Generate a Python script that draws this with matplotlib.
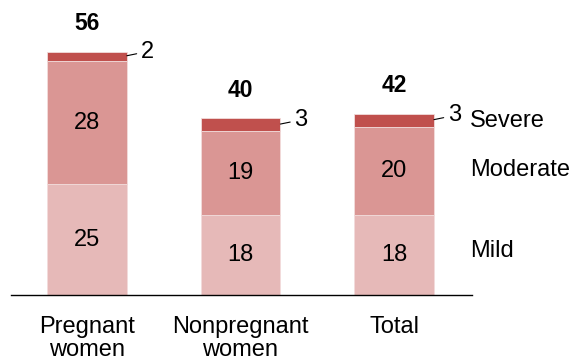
import matplotlib
matplotlib.use("Agg")
import matplotlib.pyplot as plt

categories = ["Pregnant\nwomen", "Nonpregnant\nwomen", "Total"]
mild = [25, 18, 18]
moderate = [28, 19, 20]
severe = [2, 3, 3]
totals = [56, 40, 42]
series_names = ["Mild", "Moderate", "Severe"]

plt.rcParams['font.family'] = ['Liberation Sans', 'DejaVu Sans']

W, H = 573, 360
fig = plt.figure(figsize=(W / 100, H / 100), dpi=100)
ax = fig.add_axes([11 / W, 65 / H, 461 / W, 295 / H])

c_mild = "#e6b9b8"
c_mod = "#da9694"
c_sev = "#c0504d"
x = list(range(len(categories)))
bw = 0.52

ax.bar(x, mild, width=bw, color=c_mild, edgecolor="#f2dcdb", linewidth=0.6)
bot2 = mild
ax.bar(x, moderate, width=bw, bottom=bot2, color=c_mod, edgecolor="#f2dcdb", linewidth=0.6)
bot3 = [a + b for a, b in zip(mild, moderate)]
ax.bar(x, severe, width=bw, bottom=bot3, color=c_sev, edgecolor="#f2dcdb", linewidth=0.6)

ax.set_xlim(-0.495, 2.508)
ax.set_ylim(0, 66.7)

fs = 17
for i in x:
    ax.text(i, mild[i] / 2, str(mild[i]), ha="center", va="center", fontsize=fs)
    ax.text(i, mild[i] + moderate[i] / 2, str(moderate[i]), ha="center", va="center", fontsize=fs)
    top = bot3[i] + severe[i]
    ax.annotate(str(severe[i]), xy=(i + bw / 2, top - severe[i] * 0.45),
                xytext=(10, 3), textcoords="offset points", ha="left", va="center",
                fontsize=fs,
                arrowprops=dict(arrowstyle="-", color="black", lw=0.8, shrinkA=1, shrinkB=0))
    ax.annotate(str(totals[i]), xy=(i, top), xytext=(0, 20), textcoords="offset points",
                ha="center", va="center", fontsize=fs - 0.5, fontweight="bold")

# right-side series labels
label_y = [10, 28.3, 39.4]
for name, yy in zip(series_names, label_y):
    ax.text(2.495, yy, name, ha="left", va="center", fontsize=fs, clip_on=False)

ax.set_xticks(x)
ax.set_xticklabels(categories, fontsize=fs, linespacing=1.05)
ax.tick_params(axis="x", length=0, pad=15)
ax.set_yticks([])
for s in ["top", "right", "left"]:
    ax.spines[s].set_visible(False)
ax.spines["bottom"].set_linewidth(1.0)

fig.savefig("out.png", dpi=100)
